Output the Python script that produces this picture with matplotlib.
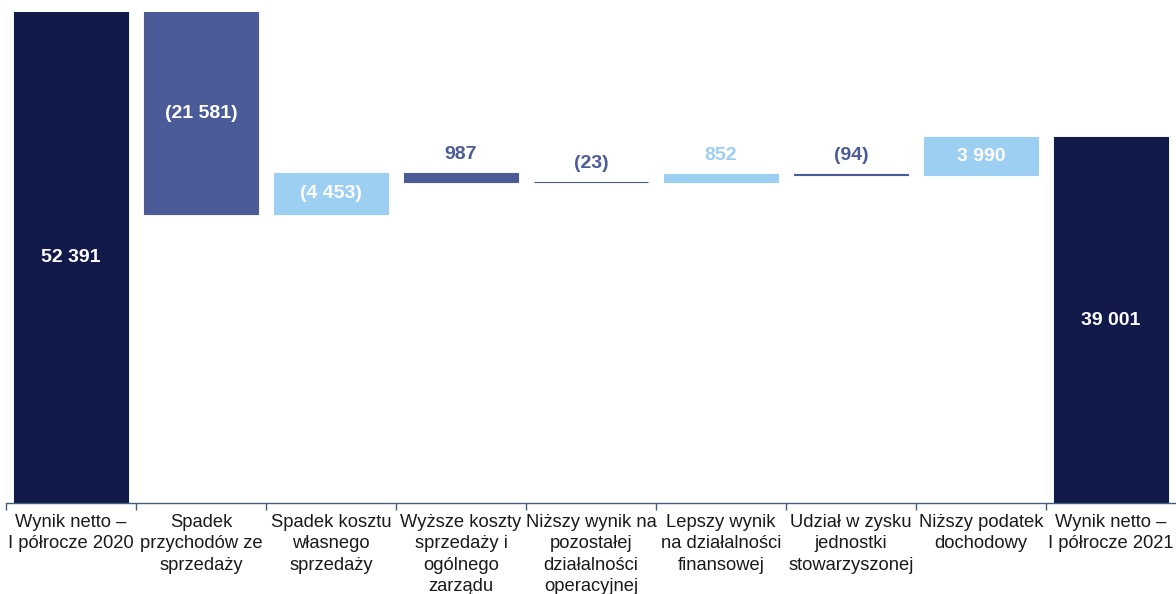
import matplotlib
matplotlib.use("Agg")
import matplotlib.pyplot as plt
import numpy as np

plt.rcParams['font.family'] = ['Liberation Sans', 'DejaVu Sans']

# net result bridge H1 2020 -> H1 2021 (PLN thousands)
categories = [
    "Wynik netto –\nI półrocze 2020",
    "Spadek\nprzychodów ze\nsprzedaży",
    "Spadek kosztu\nwłasnego\nsprzedaży",
    "Wyższe koszty\nsprzedaży i\nogólnego\nzarządu",
    "Niższy wynik na\npozostałej\ndziałalności\noperacyjnej",
    "Lepszy wynik\nna działalności\nfinansowej",
    "Udział w zysku\njednostki\nstowarzyszonej",
    "Niższy podatek\ndochodowy",
    "Wynik netto –\nI półrocze 2021",
]
start_total = 52391
end_total = 39001
# effect on net result of each step
deltas = [-21581, 4453, -987, -23, 852, -94, 3990]
# how each step is printed (cost items are shown as cost changes)
in_parens = [True, True, False, True, False, True, False]

NAVY = '#121a4a'
MID = '#4b5b97'
LIGHT = '#9dcff2'


def fmt(v, paren=False):
    s = f"{abs(v):,}".replace(",", " ")
    return f"({s})" if paren else s


fig = plt.figure(figsize=(11.76, 5.94), dpi=100)
ax = fig.add_axes([6 / 1176, 91 / 594, 1170 / 1176, 491 / 594])

x = np.arange(len(categories))
w = 0.875

bottoms, heights, colors, texts = [0], [start_total], [NAVY], [fmt(start_total)]
level = start_total
for d, p in zip(deltas, in_parens):
    new = level + d
    bottoms.append(min(level, new))
    heights.append(abs(d))
    colors.append(MID if d < 0 else LIGHT)
    texts.append(fmt(d, p))
    level = new
bottoms.append(0)
heights.append(end_total)
colors.append(NAVY)
texts.append(fmt(end_total))

ax.bar(x, heights, bottom=bottoms, width=w, color=colors,
       edgecolor=colors, linewidth=0.8, zorder=2)

for xi, b, h, c, t in zip(x, bottoms, heights, colors, texts):
    if h > 2500:
        ax.text(xi, b + h / 2, t, ha='center', va='center', color='white',
                fontsize=14, fontweight='bold')
    else:
        ax.annotate(t, (xi, b + h), xytext=(0, 7), textcoords='offset points',
                    ha='center', va='bottom', color=c,
                    fontsize=14, fontweight='bold')

ax.set_xlim(-0.5, len(categories) - 0.5)
ax.set_ylim(0, start_total)

for s in ['top', 'right', 'left']:
    ax.spines[s].set_visible(False)
ax.spines['bottom'].set_color('#41607e')
ax.spines['bottom'].set_linewidth(1.0)
ax.set_yticks([])

ax.set_xticks(x)
ax.set_xticklabels(categories, fontsize=13.2, color='#1a1a1a', linespacing=1.33)
ax.tick_params(axis='x', which='major', length=0, pad=8)
ax.set_xticks(np.arange(len(categories)) - 0.5, minor=True)
ax.tick_params(axis='x', which='minor', length=5, color='#41607e', width=1.0)

fig.savefig('out.png', dpi=100)
